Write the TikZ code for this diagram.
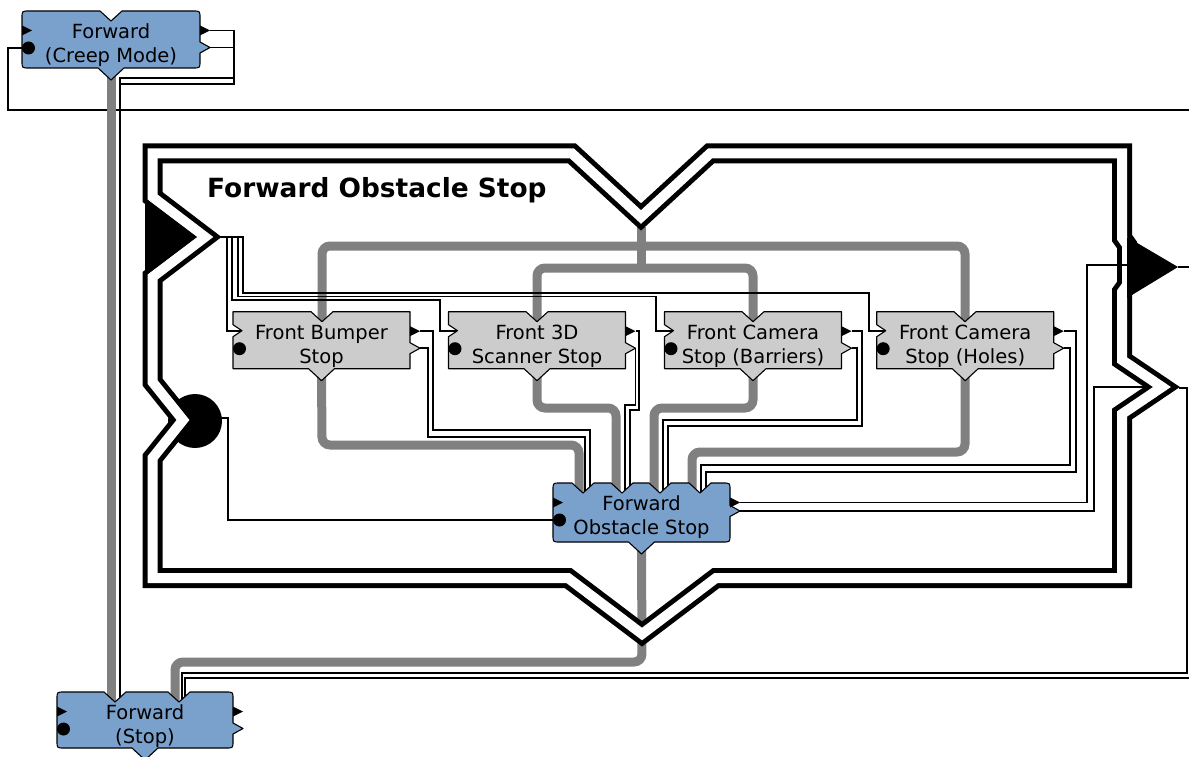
\documentclass[tikz,border=0pt]{standalone}
\usepackage{fontspec}
\setmainfont{DejaVu Sans}
\definecolor{blockblue}{RGB}{122,160,204}
\definecolor{blockgray}{RGB}{204,204,204}
\definecolor{flowgray}{RGB}{128,128,128}

% A block: name, left, top, width, height, x positions of the top notches, label
% \blkv is the offset of the lower output port below the top edge
\def\blkv{36.5}
\newcommand\block[7]{%
  \pgfmathsetmacro\bR{#2+#4}%
  \pgfmathsetmacro\bB{#3+#5}%
  \pgfmathsetmacro\bC{#2+#4/2}%
  \filldraw[blockline, fill=\blkfill]
    (#2,#3+\blkr) .. controls (#2,#3) .. (#2+\blkr,#3)
    \foreach \n in {#6} { -- (\n-11,#3) -- (\n,#3+10) -- (\n+11,#3) }
    -- (\bR-\blkr,#3) .. controls (\bR,#3) .. (\bR,#3+\blkr)
    -- (\bR,#3+\blkv-5.5) -- (\bR+10,#3+\blkv) -- (\bR,#3+\blkv+5.5)
    -- (\bR,\bB-\blkr) .. controls (\bR,\bB) .. (\bR-\blkr,\bB)
    -- (\bC+13,\bB) -- (\bC,\bB+12) -- (\bC-13,\bB)
    -- (#2+\blkr,\bB) .. controls (#2,\bB) .. (#2,\bB-\blkr)
    -- (#2,#3+25) -- (#2+\blkleft,#3+19) -- (#2,#3+13) -- cycle;
  \fill (\bR,#3+14.5) -- (\bR+10,#3+19.5) -- (\bR,#3+24.5) -- cycle;
  \path[fill=\blkin] (#2,#3+14.5) -- (#2+10,#3+19.5) -- (#2,#3+24.5) -- cycle;
  \fill (#2+6.5,#3+37) circle[radius=6.5pt];
  \node[lbl] (#1) at (\bC,#3+34.5) {#7};
  \coordinate (#1-out) at (\bR+10,#3+19.5);
  \coordinate (#1-vout) at (\bR+10,#3+\blkv);
  \coordinate (#1-in) at (#2+\blkleft,#3+19);
  \coordinate (#1-dot) at (#2+6.5,#3+37);
}
\newcommand\blueblock{\def\blkr{7}\def\blkfill{blockblue}\def\blkleft{0}\def\blkin{black}\block}
\newcommand\grayblock{\def\blkr{0}\def\blkfill{blockgray}\def\blkleft{9}\def\blkin{none}\block}

\newcommand\allblocks{%
  \blueblock{cm}{22}{11}{178}{57}{111}{\strut Forward\\\strut (Creep Mode)}
  {\def\blkv{28}\blueblock{fos}{553}{483}{177}{59}{583,622,660,700}{\strut Forward\\\strut Obstacle Stop}}
  \blueblock{fs}{57}{692}{176}{56}{115,179}{\strut Forward\\\strut (Stop)}
  \grayblock{fb}{233}{311.7}{177}{57}{322}{\strut Front Bumper\\\strut Stop}
  \grayblock{s3}{448.5}{311.7}{177}{57}{537}{\strut Front 3D\\\strut Scanner Stop}
  \grayblock{cb}{664.5}{311.7}{177}{57}{753}{\strut Front Camera\\\strut Stop (Barriers)}
  \grayblock{ch}{876.7}{311.7}{177}{57}{965}{\strut Front Camera\\\strut Stop (Holes)}}

\begin{document}
\begin{tikzpicture}[x=1pt, y=-1pt,
  wire/.style={line width=1.6pt, line join=miter},
  flow/.style={line width=9pt, draw=flowgray, rounded corners=8pt},
  frame/.style={line width=5pt, double=white, double distance=10pt, line join=miter},
  blockline/.style={draw=black, line width=1.1pt, line join=round},
  lbl/.style={font=\fontsize{19.5}{24}\selectfont, align=center, inner sep=0pt},
  title/.style={font=\fontsize{26.4}{30}\selectfont\bfseries, anchor=base west, inner sep=0pt}]
\useasboundingbox (0,0) rectangle (1189,757);

% ports of the group frame
\coordinate (fr-top) at (641,227);
\coordinate (fr-in) at (217,237);
\coordinate (fr-dot) at (221,418);
\coordinate (fr-tri) at (1128,265);
\coordinate (fr-tip) at (1178,267);
\coordinate (fr-v) at (1150,387);
\coordinate (fr-vtip) at (1179,388);
\coordinate (east-a) at (1189,110);
\coordinate (east-b) at (1189,267);
\coordinate (east-c) at (1189,678);

% blocks are placed once invisibly so that their anchors exist
\begin{scope}[opacity=0]
\allblocks
\end{scope}

% line from the creep block's data port, running under the flow
\draw[wire] (cm-dot) -- (8,48) -- (8,110) -- (east-a);

% gray flow connections
\draw[flow] (cm.south) -- (111,0 |- fs.north);
\draw[flow] (fr-top) -- (641,268);
\draw[flow] (322,0 |- fb.north) -- (322,246) -- (965,246) -- (965,0 |- ch.north);
\draw[flow] (537,0 |- s3.north) -- (537,268) -- (753,268) -- (753,0 |- cb.north);
\draw[flow] (fb.south) -- (322,445) -- (579,445) -- (579,0 |- fos.north);
\draw[flow] (s3.south) -- (537,408) -- (616,408) -- (616,0 |- fos.north);
\draw[flow] (cb.south) -- (753,408) -- (654,408) -- (654,0 |- fos.north);
\draw[flow] (ch.south) -- (965,452) -- (692,452) -- (692,0 |- fos.north);
\draw[flow] (fos.south) -- (642,662) -- (175,662) -- (175,0 |- fs.north);

% group frame with its ports
\fill (195,421) circle[radius=27pt];
\draw[frame] (152.5,153.5) -- (572,153.5) -- (641,217) -- (710,153.5) -- (1122,153.5)
  -- (1122,238) -- (1127,245) -- (1127,285) -- (1122,292) -- (1122,360) -- (1162,387)
  -- (1122,414) -- (1122,578) -- (716,578) -- (642,634) -- (568,578) -- (152.5,578)
  -- (152.5,458) -- (183,420) -- (152.5,382) -- (152.5,277) -- (205,237) -- (152.5,197) -- cycle;
\fill (145,198) -- (197,237) -- (145,276) -- cycle;
\fill (1127,237) -- (1178,267) -- (1127,298) -- cycle;

% black connections
\draw[wire] (fr-tip) -- (east-b);
\draw[wire] (cm-out) -- (234,30.5) -- (234,78) -- (120,78) -- (120,0 |- fs.north);
\draw[wire] (cm-vout) -- (234,47.5) -- (234,84) -- (120,84);
\draw[wire] (fr-in) -- (227,237) -- (227,330.7) -- (fb-in);
\draw[wire] (fr-in) -- (232,237) -- (232,300) -- (440,300) -- (440,330.7) -- (s3-in);
\draw[wire] (fr-in) -- (238,237) -- (238,296.5) -- (656,296.5) -- (656,330.7) -- (cb-in);
\draw[wire] (fr-in) -- (243,237) -- (243,293) -- (869,293) -- (869,330.7) -- (ch-in);
\draw[wire] (fb-out) -- (433,331.2) -- (433,430) -- (590,430) -- (590,0 |- fos.north);
\draw[wire] (fb-vout) -- (428,348.2) -- (428,437) -- (585,437) -- (585,0 |- fos.north);
\draw[wire] (s3-out) -- (639,331.2) -- (639,410) -- (630,410) -- (630,0 |- fos.north);
\draw[wire] (s3-vout) -- (635.5,405) -- (625,405) -- (625,0 |- fos.north);
\draw[wire] (cb-out) -- (862,331.2) -- (862,426) -- (668,426) -- (668,0 |- fos.north);
\draw[wire] (cb-vout) -- (857,348.2) -- (857,420) -- (663,420) -- (663,0 |- fos.north);
\draw[wire] (ch-out) -- (1076,331.2) -- (1076,472) -- (706,472) -- (706,0 |- fos.north);
\draw[wire] (ch-vout) -- (1070,348.2) -- (1070,465) -- (701,465) -- (701,0 |- fos.north);
\draw[wire] (fr-dot) -- (228,418) -- (228,0 |- fos-dot) -- (fos-dot);
\draw[wire] (fos-out) -- (1087,0 |- fos-out) -- (1087,265) -- (fr-tri);
\draw[wire] (fos-vout) -- (1094,0 |- fos-vout) -- (1094,387) -- (fr-v);
\draw[wire] (fr-vtip) -- (1187,388) -- (1187,673) -- (182,673) -- (182,0 |- fs.north);
\draw[wire] (east-c) -- (185,678) -- (185,0 |- fs.north);

% visible blocks
\allblocks

\node[title] (grouptitle) at (207,197) {Forward Obstacle Stop};
\end{tikzpicture}
\end{document}
